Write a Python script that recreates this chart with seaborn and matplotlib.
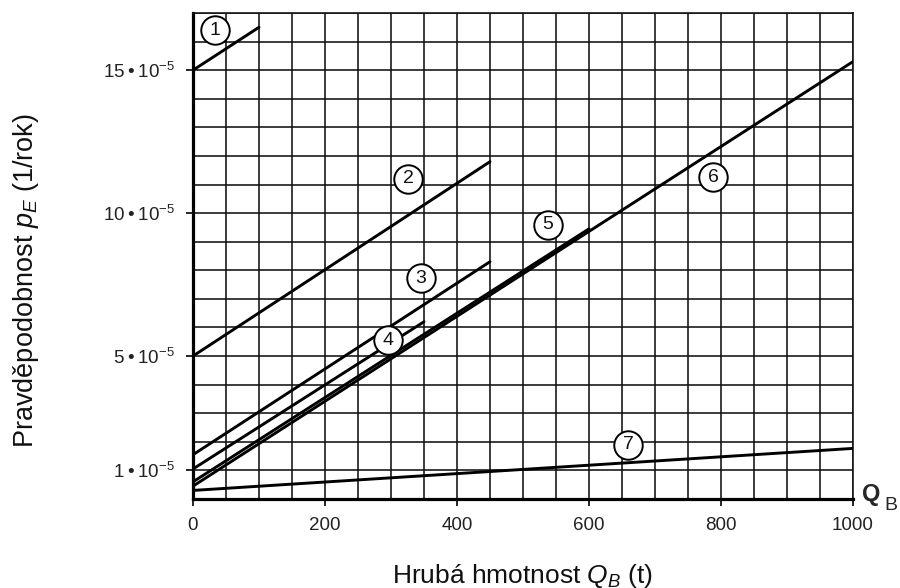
import matplotlib
matplotlib.use("Agg")
import matplotlib.pyplot as plt
import seaborn as sns
import pandas as pd
import numpy as np

# Hazard lines: probability p_E (in units of 1e-5 per year) vs gross mass Q_B (t)
line_ids = ["1", "2", "3", "4", "5", "6", "7"]
q_start = [0, 0, 0, 0, 0, 0, 0]
q_end = [100, 450, 450, 350, 600, 1000, 1000]
p_start = [15.0, 5.0, 1.55, 1.05, 0.6, 0.45, 0.3]
p_end = [16.5, 11.8, 8.3, 6.2, 9.45, 15.3, 1.77]

# Circled line numbers
tag_q = [33, 326, 345, 295, 538, 788, 659]
tag_p = [16.4, 11.2, 7.73, 5.56, 9.6, 11.26, 1.9]

x_ticks = [0, 200, 400, 600, 800, 1000]
y_ticks = [1, 5, 10, 15]
y_tick_labels = [f"{v} • 10$^{{-5}}$".replace(" • ", "\u2009•\u2009") for v in y_ticks]

sns.set_theme(style="white")
plt.rcParams["font.family"] = ["Liberation Sans", "DejaVu Sans"]
plt.rcParams["mathtext.fontset"] = "custom"
plt.rcParams["mathtext.rm"] = "Liberation Sans"
plt.rcParams["mathtext.it"] = "Liberation Sans:italic"
plt.rcParams["mathtext.bf"] = "Liberation Sans:bold"

df = pd.DataFrame({
    "line": np.repeat(line_ids, 2),
    "Q": np.ravel(np.column_stack([q_start, q_end])),
    "p": np.ravel(np.column_stack([p_start, p_end])),
})

fig = plt.figure(figsize=(9, 5.88), dpi=100)
ax = fig.add_axes([193 / 900, 89 / 588, 660 / 900, 486 / 588])

sns.lineplot(data=df, x="Q", y="p", hue="line",
             palette={k: "black" for k in line_ids},
             estimator=None, sort=False, legend=False,
             linewidth=2.1, ax=ax, zorder=3)

ax.set_xlim(0, 1000)
ax.set_ylim(0, 17)

ax.set_xticks(x_ticks)
ax.set_xticks(np.arange(0, 1001, 50), minor=True)
ax.set_yticks(y_ticks)
ax.set_yticklabels(y_tick_labels)
ax.set_yticks(np.arange(0, 18, 1), minor=True)

ax.grid(which="both", color="#111111", linewidth=1.15)
ax.set_axisbelow(True)

ax.tick_params(which="major", bottom=True, left=True, direction="out",
               length=5, width=1.2, color="black", labelsize=13.5,
               labelcolor="#222222", pad=8)
ax.tick_params(which="minor", length=0)

for side in ("left", "bottom"):
    ax.spines[side].set_linewidth(2.3)
    ax.spines[side].set_color("black")
for side in ("top", "right"):
    ax.spines[side].set_linewidth(1.15)
    ax.spines[side].set_color("#111111")

# circled markers with line numbers
sns.scatterplot(x=tag_q, y=tag_p, s=420, color="white", edgecolor="black",
                linewidth=1.4, ax=ax, zorder=4, legend=False)
for q, p, t in zip(tag_q, tag_p, line_ids):
    ax.text(q, p, t, ha="center", va="center", fontsize=14,
            color="#111111", zorder=5)

# axis symbol at the end of the abscissa
ax.text(1027, 0.17, "Q", fontsize=17, fontweight="bold",
        ha="center", va="center", clip_on=False)
ax.text(1058, -0.21, "B", fontsize=14, ha="center", va="center",
        clip_on=False)

ax.set_xlabel("Hrubá hmotnost $Q_B$ (t)", fontsize=19, color="#111111")
ax.xaxis.label.set_verticalalignment("baseline")
ax.xaxis.set_label_coords(0.5, -0.172)

ax.set_ylabel("Pravděpodobnost $p_E$ (1/rok)", fontsize=19.5, color="#111111")
ax.yaxis.label.set_verticalalignment("baseline")
ax.yaxis.set_label_coords(-0.2424, 0.45)

fig.savefig("out.png", dpi=100)
